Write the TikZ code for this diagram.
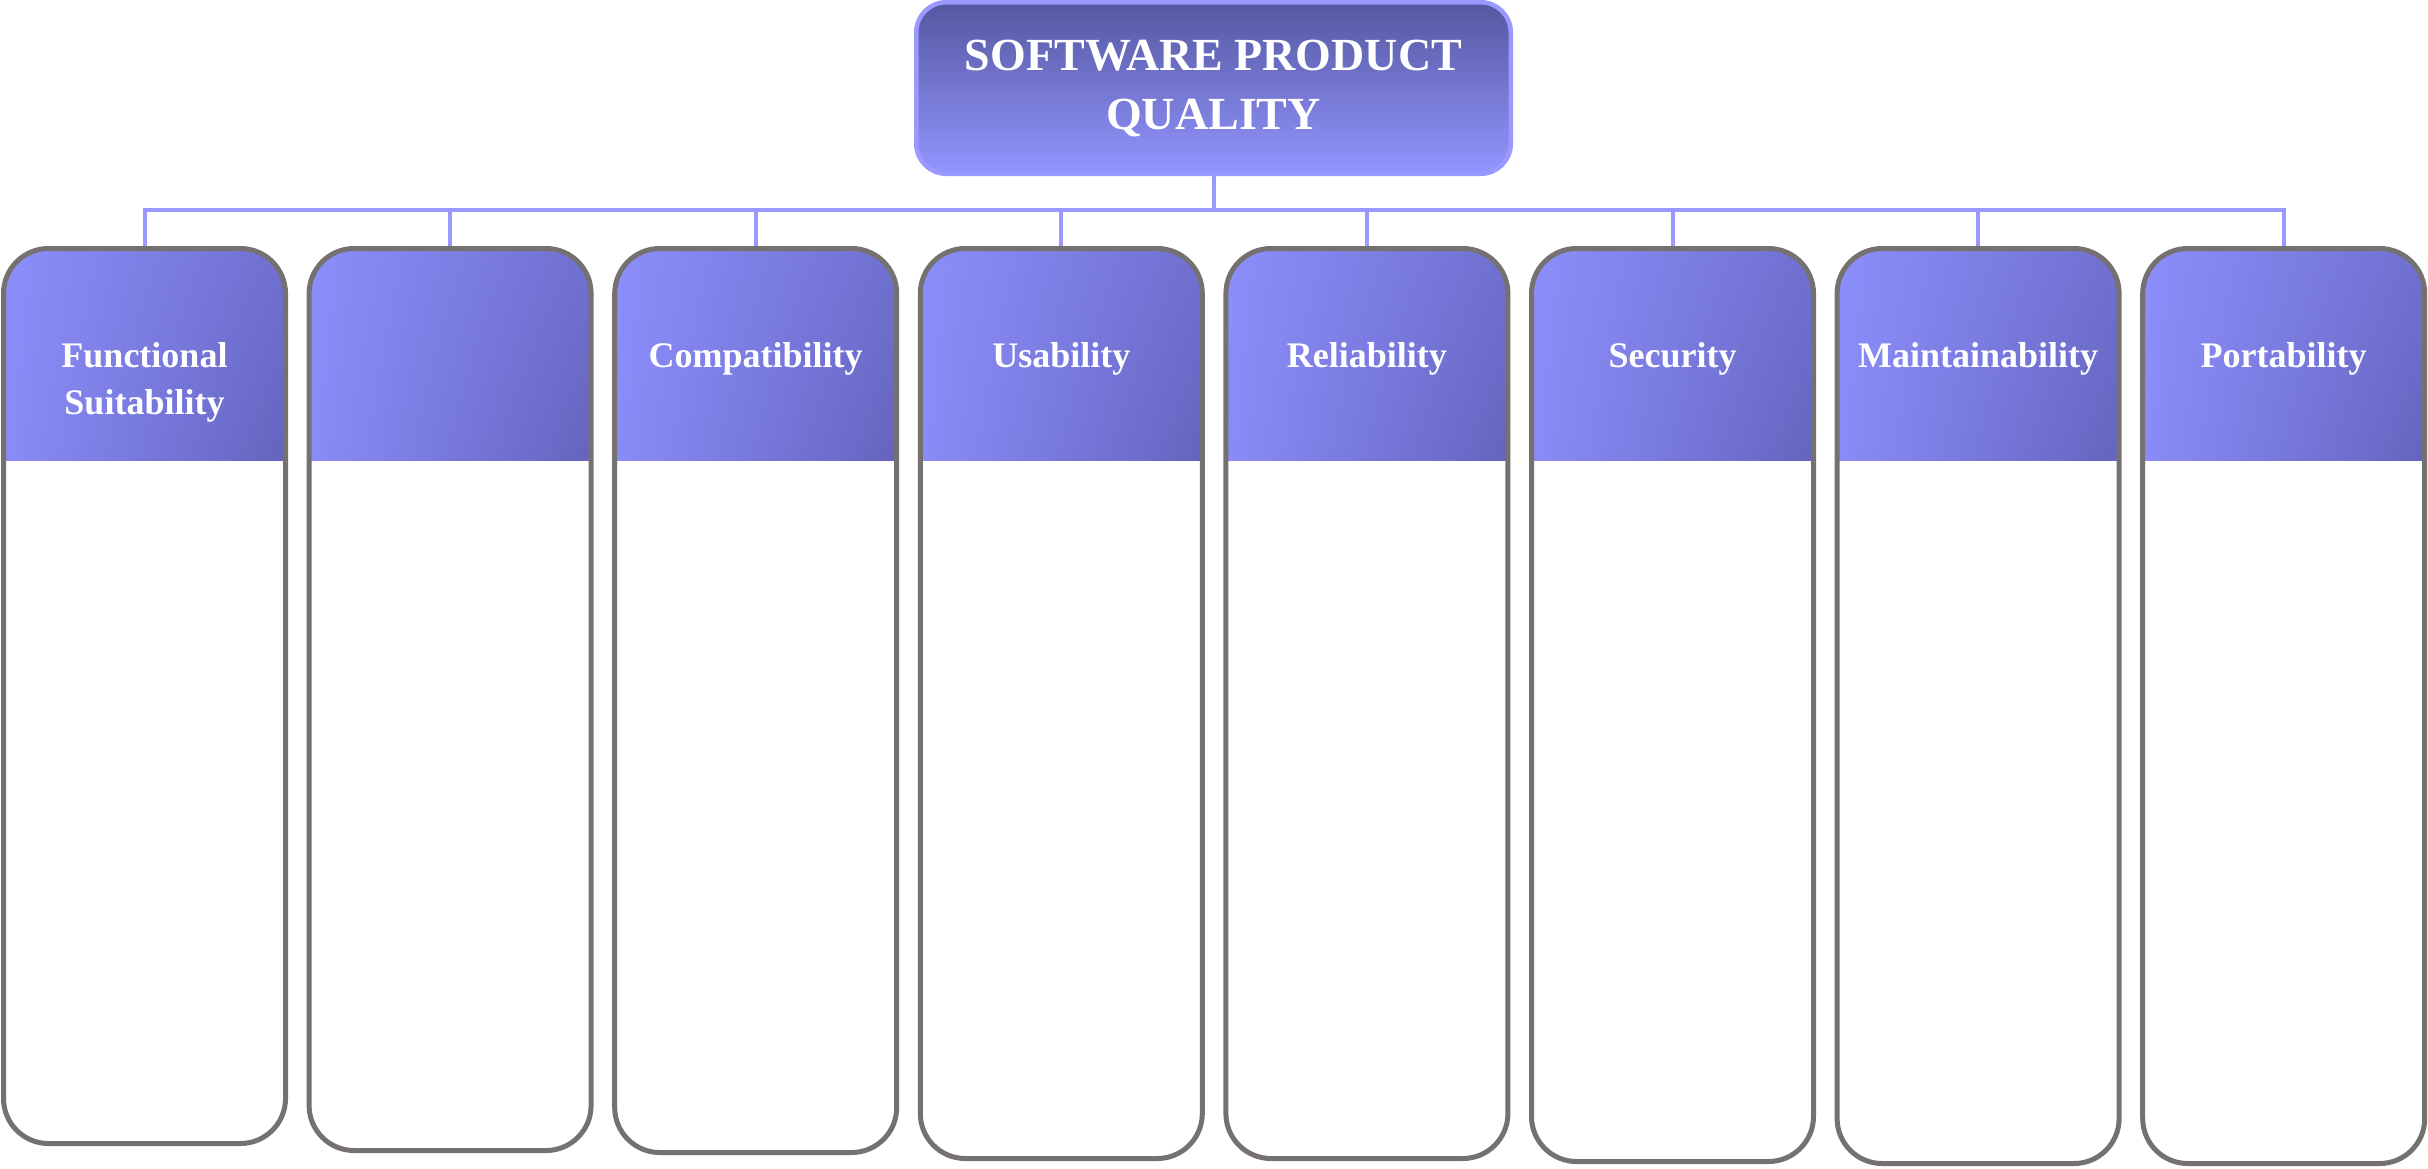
\documentclass[tikz,border=0pt]{standalone}
\usepackage{fontspec}
\setmainfont{Liberation Serif}
\usepackage{xcolor}
\usepackage{tikz}
\usetikzlibrary{positioning, shadings, calc}
\definecolor{spqborder}{RGB}{153,153,255}
\definecolor{spqtop}{RGB}{85,87,160}
\definecolor{spqbottom}{RGB}{147,149,255}
\definecolor{boxgrey}{RGB}{118,113,113}
\definecolor{hdlight}{RGB}{140,142,250}
\definecolor{hdright}{RGB}{112,112,208}
\definecolor{hdleft}{RGB}{130,132,238}
\definecolor{hddark}{RGB}{62,60,132}

\begin{document}
\begin{tikzpicture}[x=1pt, y=-1pt,
    spqnode/.style={rectangle, rounded corners=30pt, draw=spqborder, line width=4.5pt,
        top color=spqtop, bottom color=spqbottom, minimum width=594.5pt, minimum height=171.5pt,
        inner sep=0pt, text=white, align=center, font=\bfseries\fontsize{46}{59}\selectfont},
    hdshade/.style={sharp corners, upper left=hdlight, upper right=hdright, lower left=hdleft, lower right=hddark},
    qbox/.style={rectangle, rounded corners=45pt, draw=boxgrey, line width=5pt, fill=white,
        minimum width=282pt, inner sep=0pt, anchor=north,
        path picture={\shade[hdshade] (path picture bounding box.north west) rectangle ([yshift=-212pt]path picture bounding box.north east);}},
    qlabel/.style={anchor=north, inner sep=0pt, text=white, align=center,
        font=\bfseries\fontsize{36}{47}\selectfont},
    link/.style={draw=spqborder, line width=4pt}]
    \useasboundingbox (0,0) rectangle (2428,1168);

    % Titre
    \node[spqnode] (spq) at (1213.5,88) {SOFTWARE PRODUCT\\QUALITY};

    % Caractéristiques
    \foreach \txt/\h [count=\i from 0] in {{Functional\\Suitability}/895, {}/902, Compatibility/904,
        Usability/910, Reliability/910, Security/913, Maintainability/915, Portability/915}{
        \node[qbox, minimum height=\h pt] (qc\i) at (144.5+305.6*\i, 246) {};
        \node[qlabel] (ql\i) at ([yshift=-96pt]qc\i.north) {\txt};
        \draw[link] (spq.south) -- ++(0,34) -| (qc\i.north);
    }
\end{tikzpicture}
\end{document}
